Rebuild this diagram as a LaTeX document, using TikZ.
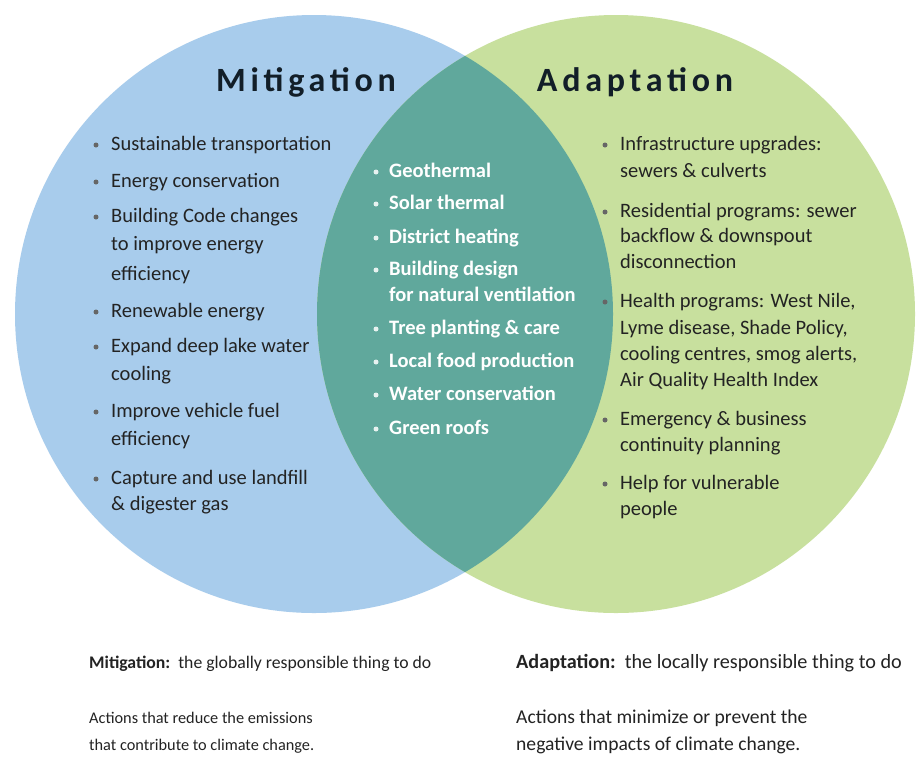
\documentclass[tikz,border=0pt]{standalone}
\usepackage{fontspec}
\setmainfont{Carlito}
\definecolor{mitblue}{RGB}{168,204,236}
\definecolor{adagreen}{RGB}{200,224,158}
\definecolor{bothteal}{RGB}{96,168,156}
\definecolor{inktext}{RGB}{35,35,35}
\definecolor{titleink}{RGB}{18,30,40}

\begin{document}
\begin{tikzpicture}[x=1pt,y=-1pt,
  title/.style={font={\fontsize{34}{40}\selectfont\bfseries\addfontfeature{LetterSpace=14}}, text=titleink, inner sep=0pt},
  listtext/.style={anchor=mid west, inner sep=0pt, font=\fontsize{20.5}{24}\selectfont, text=inktext},
  midtext/.style={listtext, font=\fontsize{20.5}{24}\selectfont\bfseries, text=white},
  dot/.style={circle, fill=#1, inner sep=0pt, minimum size=5pt},
  footl/.style={anchor=mid west, inner sep=0pt, font=\fontsize{#1}{20}\selectfont, text=inktext}]
\useasboundingbox (0,0) rectangle (920,764);
\fill[white] (0,0) rectangle (920,764);

% the two circles and their overlap
\fill[mitblue] (314,314) circle[radius=299pt];
\fill[adagreen] (616,314) circle[radius=299pt];
\begin{scope}
  \clip (314,314) circle[radius=299pt];
  \fill[bothteal] (616,314) circle[radius=299pt];
\end{scope}

% titles
\node[title] (mittitle) at (306,82) {Mitigation};
\node[title] (adatitle) at (635,82) {Adaptation};

% mitigation list
\foreach \y/\txt [count=\i] in {148/Sustainable transportation, 185/Energy conservation,
    220/Building Code changes, 248/to improve energy, 278/efficiency,
    315/Renewable energy, 350/Expand deep lake water, 378/cooling,
    415/Improve vehicle fuel, 443/efficiency,
    482/Capture and use landfill, 508/\& digester gas}
  \node[listtext] (mit\i) at (111,\y) {\txt};
\foreach \y [count=\i] in {145,182,217,312,347,412,479}
  \node[dot=gray!80!black] (mitdot\i) at (96,\y) {};

% shared list
\foreach \y/\txt [count=\i] in {175/Geothermal, 207/Solar thermal, 241/District heating,
    273/Building design, 299/for natural ventilation, 332/Tree planting \& care,
    365/Local food production, 398/Water conservation, 432/Green roofs}
  \node[midtext] (both\i) at (389,\y) {\txt};
\foreach \y [count=\i] in {172,204,238,270,329,362,395,429}
  \node[dot=white!85!bothteal] (bothdot\i) at (376,\y) {};

% adaptation list
\foreach \y/\txt [count=\i] in {148/Infrastructure upgrades:, 175/sewers \& culverts,
    215/Residential programs: sewer, 240/backflow \& downspout, 266/disconnection,
    305/{Health programs: West Nile,}, 332/{Lyme disease, Shade Policy,},
    358/{cooling centres, smog alerts,}, 384/Air Quality Health Index,
    423/Emergency \& business, 449/continuity planning,
    487/Help for vulnerable, 513/people}
  \node[listtext] (ada\i) at (620,\y) {\txt};
\foreach \y [count=\i] in {145,212,302,420,484}
  \node[dot=gray!80!black] (adadot\i) at (605,\y) {};

% captions below
\node[footl=17.7] (mitfoot) at (89,666) {\textbf{Mitigation:}\ \ the globally responsible thing to do};
\node[footl=16.3] (mitact1) at (89,721) {Actions that reduce the emissions};
\node[footl=16.3] (mitact2) at (89,748) {that contribute to climate change.};
\node[footl=20.2] (adafoot) at (516,666) {\textbf{Adaptation:}\ \ the locally responsible thing to do};
\node[footl=19.6] (adaact1) at (516,721) {Actions that minimize or prevent the};
\node[footl=19.6] (adaact2) at (516,748) {negative impacts of climate change.};
\end{tikzpicture}
\end{document}
